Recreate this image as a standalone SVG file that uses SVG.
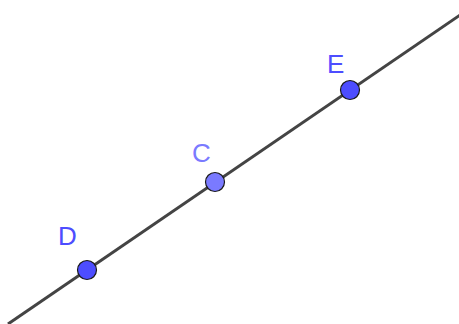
<svg xmlns="http://www.w3.org/2000/svg" width="459" height="324" viewBox="0 0 459 324">
<style>
.ln{stroke:#444;stroke-width:3;fill:none;stroke-linecap:butt}
.pt{stroke:#1a1a1a;stroke-width:1.2}
.lb{font-family:"Liberation Sans",Arial,sans-serif;font-size:26px}
</style>
<rect width="459" height="324" fill="#fff"/>
<g id="connectors">
<line class="ln" x1="8" y1="324" x2="482" y2="0"/>
</g>
<g id="D">
<circle class="pt" cx="87" cy="270" r="9.5" fill="#4d4dff"/>
<text class="lb" x="58" y="245" fill="#4d4dff">D</text>
</g>
<g id="C">
<circle class="pt" cx="215" cy="182" r="9.5" fill="#7a7aff"/>
<text class="lb" x="192" y="162" fill="#7a7aff">C</text>
</g>
<g id="E">
<circle class="pt" cx="350" cy="90" r="9.5" fill="#4d4dff"/>
<text class="lb" x="327" y="73" fill="#4d4dff">E</text>
</g>
</svg>
